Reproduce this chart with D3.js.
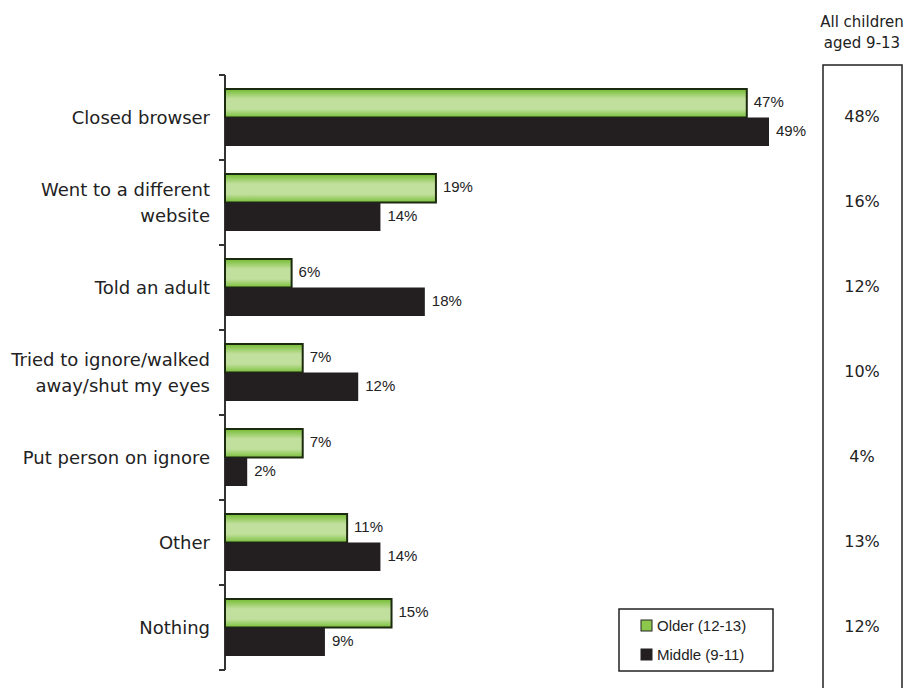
<!DOCTYPE html>
<html>
<head>
<meta charset="utf-8">
<script src="https://cdn.jsdelivr.net/npm/d3@7"></script>
<style>
  body { margin: 0; background: #fff; }
  svg { display: block; }
</style>
</head>
<body>
<div id="chart"></div>
<script>
// reaction to seeing something upsetting online, by age group
const categories = [
    ["Closed browser"],
    ["Went to a different", "website"],
    ["Told an adult"],
    ["Tried to ignore/walked", "away/shut my eyes"],
    ["Put person on ignore"],
    ["Other"],
    ["Nothing"]
]
const olderValues = [47, 19, 6, 7, 7, 11, 15]
const middleValues = [49, 14, 18, 12, 2, 14, 9]
const allValues = [48, 16, 12, 10, 4, 13, 12]
const seriesNames = ["Older (12-13)", "Middle (9-11)"]

const width = 904, height = 688
const margin = { top: 75, left: 225, bottom: 18 }

const svg = d3.select("#chart").append("svg")
    .attr("width", width)
    .attr("height", height)

const defs = svg.append("defs")
const grad = defs.append("linearGradient")
    .attr("id", "greenGrad")
    .attr("x1", 0).attr("y1", 0).attr("x2", 0).attr("y2", 1)
grad.selectAll("stop")
    .data([
        { o: 0, c: "#72bb30" },
        { o: 0.35, c: "#c2e09d" },
        { o: 0.7, c: "#c2e09d" },
        { o: 1, c: "#79bf3a" }
    ])
    .join("stop")
    .attr("offset", d => d.o)
    .attr("stop-color", d => d.c)

const idx = d3.range(categories.length)

const y = d3.scaleBand()
    .domain(idx)
    .range([margin.top, height - margin.bottom])

const ySub = d3.scaleBand()
    .domain([0, 1])
    .range([14, y.bandwidth() - 14])

const x = d3.scaleLinear()
    .domain([0, 49])
    .range([margin.left, 769])

// axis with ticks between groups
const axis = svg.append("g")
const tickYs = idx.map(i => y(i)).concat([y(idx.length - 1) + y.bandwidth()])
axis.append("line")
    .attr("x1", margin.left).attr("x2", margin.left)
    .attr("y1", tickYs[0]).attr("y2", tickYs[tickYs.length - 1])
    .attr("stroke", "#333").attr("stroke-width", 2)
axis.selectAll("line.tick")
    .data(tickYs)
    .join("line")
    .attr("class", "tick")
    .attr("x1", margin.left - 6).attr("x2", margin.left)
    .attr("y1", d => d).attr("y2", d => d)
    .attr("stroke", "#333").attr("stroke-width", 2)

// category labels
const catLabels = svg.append("g")
    .attr("font-family", "DejaVu Sans, Verdana, sans-serif")
    .attr("font-size", 18)
    .attr("fill", "#222")
    .attr("text-anchor", "end")
catLabels.selectAll("text")
    .data(idx)
    .join("text")
    .attr("x", 210)
    .attr("y", i => y(i) + y.bandwidth() / 2 - (categories[i].length - 1) * 13 + 6)
    .each(function (i) {
        d3.select(this).selectAll("tspan")
            .data(categories[i])
            .join("tspan")
            .attr("x", 210)
            .attr("dy", (d, j) => j === 0 ? 0 : 26)
            .text(d => d)
    })

const series = [
    { vals: olderValues, fill: "url(#greenGrad)", stroke: "#1c2a10" },
    { vals: middleValues, fill: "#231f20", stroke: "#231f20" }
]

series.forEach((s, k) => {
    const g = svg.append("g")
    g.selectAll("rect")
        .data(idx)
        .join("rect")
        .attr("x", x(0))
        .attr("y", i => y(i) + ySub(k))
        .attr("width", i => x(s.vals[i]) - x(0))
        .attr("height", ySub.bandwidth())
        .attr("fill", s.fill)
        .attr("stroke", s.stroke)
        .attr("stroke-width", k === 0 ? 2 : 0)
    g.selectAll("text")
        .data(idx)
        .join("text")
        .attr("x", i => x(s.vals[i]) + 7)
        .attr("y", i => y(i) + ySub(k) + ySub.bandwidth() / 2 + 4)
        .attr("font-family", "Liberation Sans, Arial, sans-serif")
        .attr("font-size", 15)
        .attr("fill", "#222")
        .text(i => s.vals[i] + "%")
})

// "All children" column
svg.append("text")
    .attr("x", 862).attr("y", 27)
    .attr("text-anchor", "middle")
    .attr("font-family", "DejaVu Sans, Verdana, sans-serif")
    .attr("font-size", 15)
    .attr("fill", "#222")
    .selectAll("tspan")
    .data(["All children", "aged 9-13"])
    .join("tspan")
    .attr("x", 862)
    .attr("dy", (d, j) => j === 0 ? 0 : 21)
    .text(d => d)

svg.append("rect")
    .attr("x", 823).attr("y", 65)
    .attr("width", 79).attr("height", 640)
    .attr("fill", "none")
    .attr("stroke", "#222").attr("stroke-width", 1.5)

svg.append("g")
    .selectAll("text")
    .data(idx)
    .join("text")
    .attr("x", 862)
    .attr("y", i => y(i) + y.bandwidth() / 2 + 4)
    .attr("text-anchor", "middle")
    .attr("font-family", "DejaVu Sans, Verdana, sans-serif")
    .attr("font-size", 16)
    .attr("fill", "#222")
    .text(i => allValues[i] + "%")

// legend
const legend = svg.append("g").attr("transform", "translate(619,609)")
legend.append("rect")
    .attr("width", 154).attr("height", 62)
    .attr("fill", "#fff")
    .attr("stroke", "#222").attr("stroke-width", 1.5)
const legItems = legend.selectAll("g.item")
    .data(seriesNames)
    .join("g")
    .attr("class", "item")
    .attr("transform", (d, j) => `translate(22,${17 + j * 29})`)
legItems.append("rect")
    .attr("x", 0).attr("y", -6)
    .attr("width", 11).attr("height", 11)
    .attr("fill", (d, j) => j === 0 ? "#8cc84b" : "#231f20")
    .attr("stroke", "#222").attr("stroke-width", 1)
legItems.append("text")
    .attr("x", 16).attr("y", 5)
    .attr("font-family", "Liberation Sans, Arial, sans-serif")
    .attr("font-size", 15)
    .attr("fill", "#222")
    .text(d => d)
</script>
</body>
</html>
